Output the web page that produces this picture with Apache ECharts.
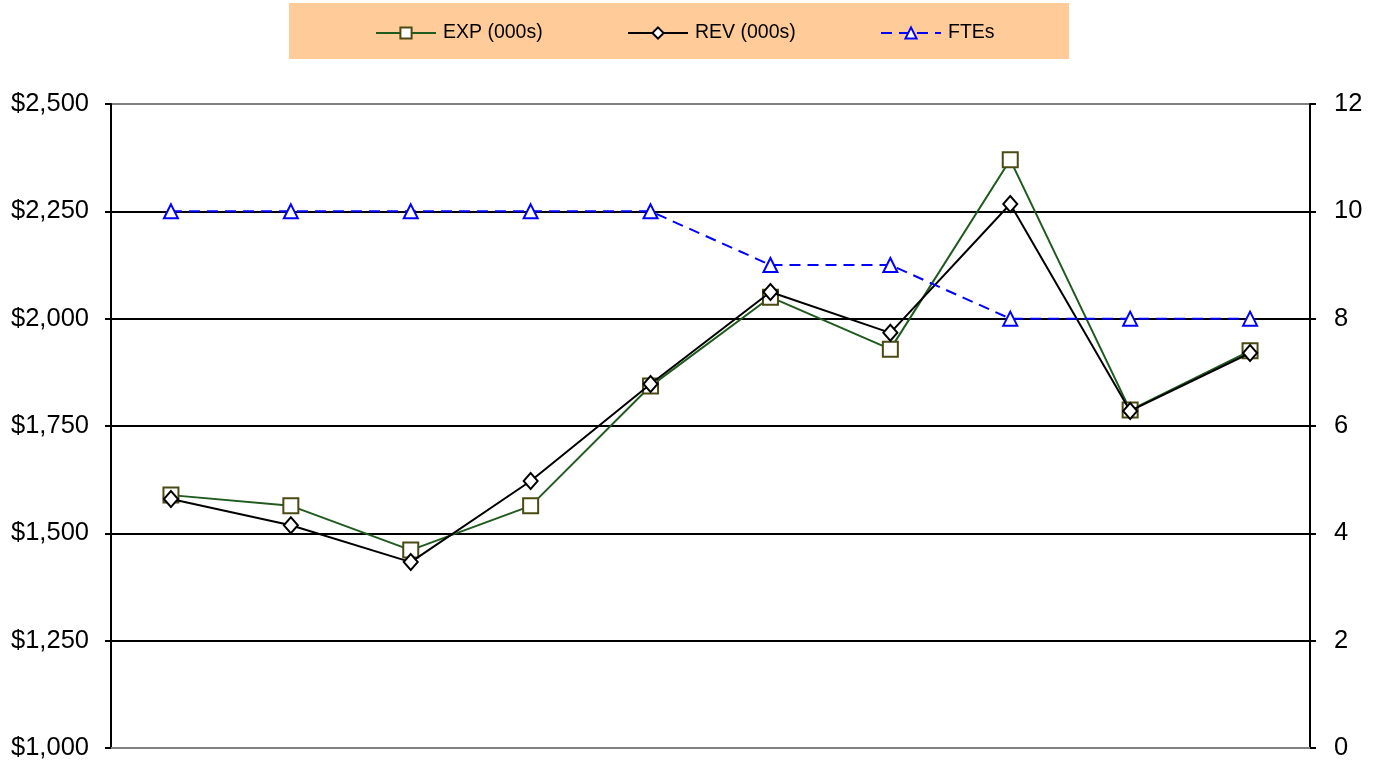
<!DOCTYPE html>
<html>
<head>
<meta charset="utf-8">
<script src="https://cdn.jsdelivr.net/npm/echarts@6/dist/echarts.min.js"></script>
<style>
  html, body { margin: 0; padding: 0; background: #fff; }
  #chart { width: 1381px; height: 765px; }
</style>
</head>
<body>
<div id="chart"></div>
<script>
// Ten reporting periods (unlabelled on the chart)
const periods = ['1', '2', '3', '4', '5', '6', '7', '8', '9', '10'];
// Expenses and revenue, in thousands of dollars
const expValues = [1589, 1564, 1461, 1564, 1843, 2050, 1929, 2370, 1787, 1925];
const revValues = [1580, 1519, 1433, 1622, 1848, 2062, 1967, 2267, 1785, 1920];
// Full-time equivalents, on the right-hand axis
const fteValues = [10, 10, 10, 10, 10, 9, 9, 8, 8, 8];
const seriesNames = ['EXP (000s)', 'REV (000s)', 'FTEs'];

const FONT = '"Liberation Sans", Arial, sans-serif';
const chart = echarts.init(document.getElementById('chart'));

function money(v) {
  return '$' + v.toLocaleString('en-US');
}

// One legend block per series so the entries sit in evenly spaced columns
const legendLefts = [370, 622, 875];
const legends = seriesNames.map((name, i) => ({
  left: legendLefts[i],
  top: 18,
  itemWidth: 60,
  itemHeight: 14,
  textStyle: { fontFamily: FONT, fontSize: 19.5, color: '#000', padding: [0, 0, 0, 2] },
  data: [name]
}));

chart.setOption({
  animation: false,
  backgroundColor: '#ffffff',
  textStyle: { fontFamily: FONT },
  graphic: [{
    type: 'rect',
    shape: { x: 289, y: 3, width: 780, height: 56 },
    style: { fill: '#FFCC99' },
    z: -10
  }],
  legend: legends,
  grid: { left: 111, right: 71, top: 104, bottom: 17 },
  xAxis: {
    type: 'category',
    data: periods,
    boundaryGap: true,
    axisLine: { show: true, lineStyle: { color: '#808080', width: 2 } },
    axisTick: { show: false },
    axisLabel: { show: false },
    splitLine: { show: false }
  },
  yAxis: [{
    type: 'value',
    min: 1000,
    max: 2500,
    interval: 250,
    position: 'left',
    axisLine: { show: true, lineStyle: { color: '#000', width: 2 } },
    axisTick: { show: true, inside: false, length: 6, lineStyle: { color: '#000', width: 2 } },
    axisLabel: { fontFamily: FONT, fontSize: 25.5, color: '#000', margin: 22, formatter: money },
    splitLine: {
      show: true,
      lineStyle: { width: 2, color: ['#808080', '#000', '#000', '#000', '#000', '#000', '#808080'] }
    }
  }, {
    type: 'value',
    min: 0,
    max: 12,
    interval: 2,
    position: 'right',
    axisLine: { show: true, lineStyle: { color: '#000', width: 2 } },
    axisTick: { show: true, inside: false, length: 6, lineStyle: { color: '#000', width: 2 } },
    axisLabel: { fontFamily: FONT, fontSize: 25.5, color: '#000', margin: 24 },
    splitLine: { show: false }
  }],
  series: [{
    name: seriesNames[0],
    type: 'line',
    yAxisIndex: 0,
    data: expValues,
    symbol: 'rect',
    symbolSize: 15,
    showAllSymbol: true,
    lineStyle: { color: '#1F5A1F', width: 2 },
    itemStyle: { color: '#FFFFFF', borderColor: '#4A4A12', borderWidth: 2 },
    z: 2
  }, {
    name: seriesNames[1],
    type: 'line',
    yAxisIndex: 0,
    data: revValues,
    symbol: 'diamond',
    symbolSize: [14, 16],
    showAllSymbol: true,
    lineStyle: { color: '#000000', width: 2 },
    itemStyle: { color: '#FFFFFF', borderColor: '#000000', borderWidth: 2 },
    z: 3
  }, {
    name: seriesNames[2],
    type: 'line',
    yAxisIndex: 1,
    data: fteValues,
    symbol: 'triangle',
    symbolSize: 14,
    showAllSymbol: true,
    lineStyle: { color: '#0000FF', width: 2, type: [11, 7] },
    itemStyle: { color: '#FFFFFF', borderColor: '#0000FF', borderWidth: 2 },
    z: 4
  }]
});
</script>
</body>
</html>
